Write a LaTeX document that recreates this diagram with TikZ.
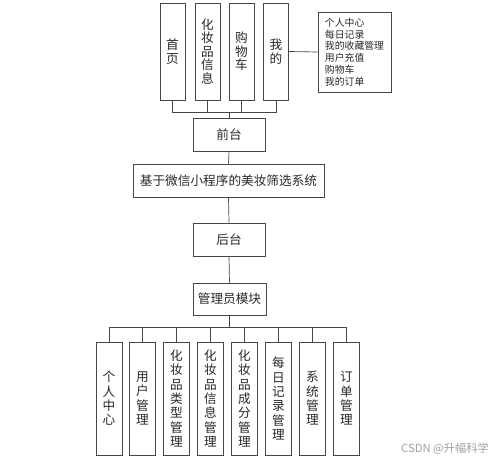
\documentclass[tikz,border=0pt]{standalone}
\usepackage{fontspec}
\setmainfont{Noto Sans CJK SC}
\usepackage{tikz}
\usetikzlibrary{positioning}
\definecolor{lnegray}{RGB}{70,70,70}
\definecolor{txtgray}{RGB}{40,40,40}
\definecolor{markgray}{RGB}{160,160,160}
\tikzstyle{modbox} = [rectangle, draw=lnegray, fill=white, text=txtgray, align=center, inner sep=1pt, font=\fontsize{9}{10}\selectfont]
\tikzstyle{tallbox} = [modbox, minimum width=6.5mm, minimum height=28.25mm, font=\fontsize{9}{10.2}\selectfont]
\tikzstyle{topbox} = [modbox, minimum width=6.25mm, minimum height=24.25mm, font=\fontsize{9}{9.6}\selectfont]
\tikzstyle{midbox} = [modbox, minimum width=18mm, minimum height=8.25mm]
\tikzstyle{line} = [draw=lnegray, line width=0.5pt]

\begin{document}
\begin{tikzpicture}[x=0.25mm, y=-0.25mm]
\useasboundingbox (0,0) rectangle (500,464);
% front end
\node (shouye) [topbox] at (172.5,51.5) {首\\页};
\node (xinxi) [topbox] at (207.5,51.5) {化\\妆\\品\\信\\息};
\node (gouwu) [topbox] at (241.5,51.5) {购\\物\\车};
\node (wode) [topbox] at (276,51.5) {我\\的};
\node (wodelist) [modbox, align=left, minimum width=18.25mm, minimum height=20mm, font=\fontsize{7}{8.4}\selectfont] at (354.5,52) {个人中心\\每日记录\\我的收藏管理\\用户充值\\购物车\\我的订单};
\node (qiantai) [midbox] at (229,134.5) {前台};
\node (system) [midbox, minimum width=47.75mm] at (228.5,180.5) {基于微信小程序的美妆筛选系统};
\node (houtai) [midbox] at (229,239.5) {后台};
\node (admin) [midbox, minimum width=18.25mm, minimum height=8mm] at (229.5,299) {管理员模块};
% admin modules
\node (m1) [tallbox] at (109,398.5) {个\\人\\中\\心};
\node (m2) [tallbox] at (142.5,398.5) {用\\户\\管\\理};
\node (m3) [tallbox] at (176.5,398.5) {化\\妆\\品\\类\\型\\管\\理};
\node (m4) [tallbox] at (210.5,398.5) {化\\妆\\品\\信\\息\\管\\理};
\node (m5) [tallbox] at (244.5,398.5) {化\\妆\\品\\成\\分\\管\\理};
\node (m6) [tallbox] at (278.5,398.5) {每\\日\\记\\录\\管\\理};
\node (m7) [tallbox] at (312.5,398.5) {系\\统\\管\\理};
\node (m8) [tallbox] at (346.5,398.5) {订\\单\\管\\理};
\node (mark) [text=markgray, font=\fontsize{8}{9}\selectfont] at (445,449) {CSDN @升幅科学};
% connectors
\coordinate (topbus) at (229,112);
\coordinate (botbus) at (229.5,327);
\draw [line] (qiantai.north) -- (topbus);
\foreach \n in {shouye,xinxi,gouwu,wode}
  \draw [line] (\n.south) |- (topbus);
\draw [line] (wode.east) -- (wodelist.west);
\draw [line] (qiantai.south) -- (system.north);
\draw [line] (system.south) -- (houtai.north);
\draw [line] (houtai.south) -- (admin.north);
\draw [line] (admin.south) -- (botbus);
\foreach \n in {m1,m2,m3,m4,m5,m6,m7,m8}
  \draw [line] (\n.north) |- (botbus);
\end{tikzpicture}
\end{document}
